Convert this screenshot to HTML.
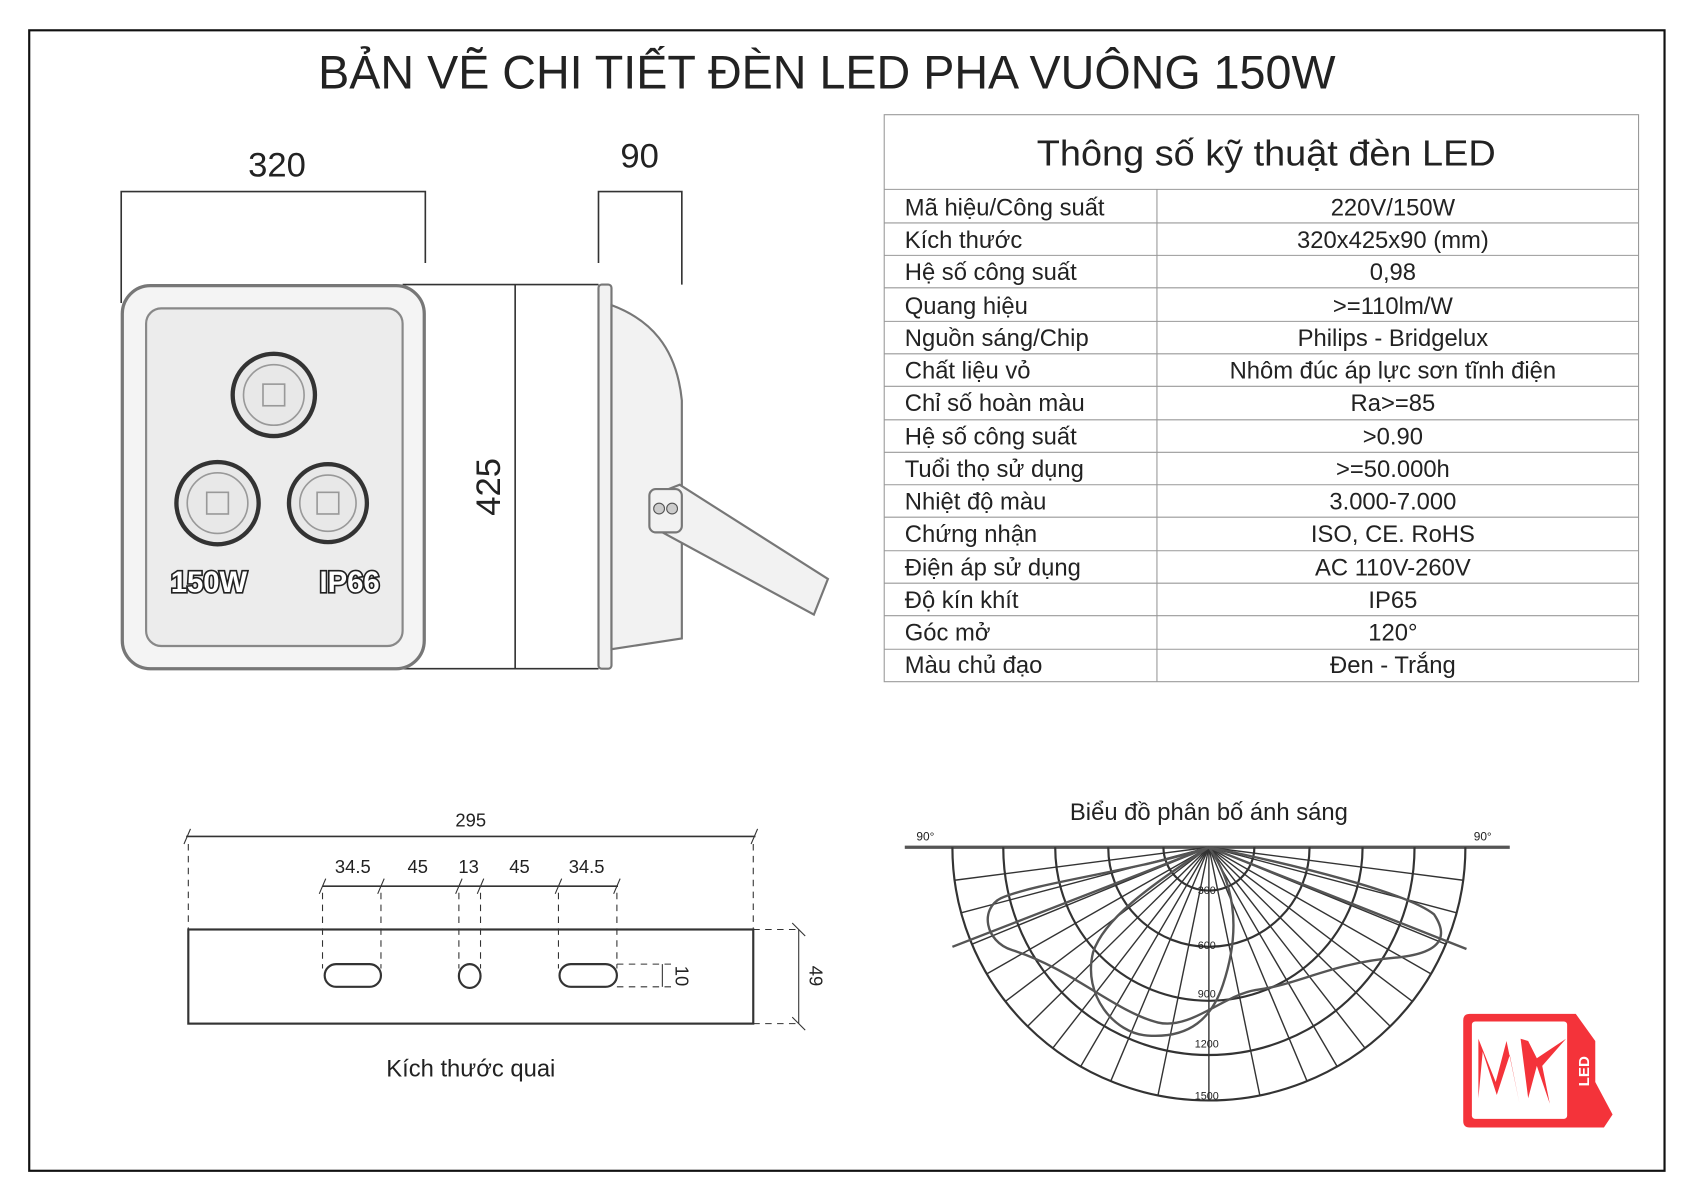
<!DOCTYPE html>
<html><head><meta charset="utf-8"><style>
html,body{margin:0;padding:0;background:#fff;}
svg{display:block;}
text{font-family:"Liberation Sans","DejaVu Sans",sans-serif;fill:#222;}
</style></head><body>
<svg width="1697" height="1200" viewBox="0 0 1568 1109" preserveAspectRatio="none" xmlns="http://www.w3.org/2000/svg">
<rect x="27" y="28" width="1511" height="1054" fill="none" stroke="#111" stroke-width="2"/>
<text x="764" y="82" font-size="44" text-anchor="middle" textLength="940" lengthAdjust="spacingAndGlyphs">BẢN VẼ CHI TIẾT ĐÈN LED PHA VUÔNG 150W</text>

<!-- table -->
<g stroke="#999" stroke-width="1" fill="none">
<rect x="817" y="106" width="697" height="524"/>
<line x1="1069" y1="175" x2="1069" y2="630"/>
</g>
<g stroke="#999" stroke-width="1">
<line x1="817" y1="175" x2="1514" y2="175"/>
<line x1="817" y1="206" x2="1514" y2="206"/>
<line x1="817" y1="236" x2="1514" y2="236"/>
<line x1="817" y1="266" x2="1514" y2="266"/>
<line x1="817" y1="297" x2="1514" y2="297"/>
<line x1="817" y1="327" x2="1514" y2="327"/>
<line x1="817" y1="357" x2="1514" y2="357"/>
<line x1="817" y1="388" x2="1514" y2="388"/>
<line x1="817" y1="418" x2="1514" y2="418"/>
<line x1="817" y1="448" x2="1514" y2="448"/>
<line x1="817" y1="478" x2="1514" y2="478"/>
<line x1="817" y1="509" x2="1514" y2="509"/>
<line x1="817" y1="539" x2="1514" y2="539"/>
<line x1="817" y1="569" x2="1514" y2="569"/>
<line x1="817" y1="600" x2="1514" y2="600"/>
</g>
<text x="1170" y="153" font-size="33" text-anchor="middle" textLength="424" lengthAdjust="spacingAndGlyphs">Thông số kỹ thuật đèn LED</text>
<g font-size="22">
<text x="836" y="199">Mã hiệu/Công suất</text><text x="1287" y="199" text-anchor="middle">220V/150W</text>
<text x="836" y="229">Kích thước</text><text x="1287" y="229" text-anchor="middle">320x425x90 (mm)</text>
<text x="836" y="259">Hệ số công suất</text><text x="1287" y="259" text-anchor="middle">0,98</text>
<text x="836" y="290">Quang hiệu</text><text x="1287" y="290" text-anchor="middle">&gt;=110lm/W</text>
<text x="836" y="320">Nguồn sáng/Chip</text><text x="1287" y="320" text-anchor="middle">Philips - Bridgelux</text>
<text x="836" y="350">Chất liệu vỏ</text><text x="1287" y="350" text-anchor="middle">Nhôm đúc áp lực sơn tĩnh điện</text>
<text x="836" y="380">Chỉ số hoàn màu</text><text x="1287" y="380" text-anchor="middle">Ra&gt;=85</text>
<text x="836" y="411">Hệ số công suất</text><text x="1287" y="411" text-anchor="middle">&gt;0.90</text>
<text x="836" y="441">Tuổi thọ sử dụng</text><text x="1287" y="441" text-anchor="middle">&gt;=50.000h</text>
<text x="836" y="471">Nhiệt độ màu</text><text x="1287" y="471" text-anchor="middle">3.000-7.000</text>
<text x="836" y="501">Chứng nhận</text><text x="1287" y="501" text-anchor="middle">ISO, CE. RoHS</text>
<text x="836" y="532">Điện áp sử dụng</text><text x="1287" y="532" text-anchor="middle">AC 110V-260V</text>
<text x="836" y="562">Độ kín khít</text><text x="1287" y="562" text-anchor="middle">IP65</text>
<text x="836" y="592">Góc mở</text><text x="1287" y="592" text-anchor="middle">120°</text>
<text x="836" y="622">Màu chủ đạo</text><text x="1287" y="622" text-anchor="middle">Đen - Trắng</text>
</g>

<!-- lamp front -->
<text x="256" y="163" font-size="32" text-anchor="middle">320</text>
<text x="591" y="155" font-size="32" text-anchor="middle">90</text>
<g stroke="#333" stroke-width="1.5" fill="none">
<polyline points="112,280 112,177 393,177 393,243"/>
<polyline points="553,243 553,177 630,177 630,263"/>
<line x1="372" y1="263" x2="553" y2="263"/>
<line x1="372" y1="618" x2="553" y2="618"/>
<line x1="476" y1="263" x2="476" y2="618"/>
</g>
<rect x="113" y="264" width="279" height="354" rx="26" fill="#f4f4f4" stroke="#777" stroke-width="3"/>
<rect x="135" y="285" width="237" height="312" rx="14" fill="#ececec" stroke="#888" stroke-width="2"/>
<g fill="#e8e8e8" stroke="#333" stroke-width="4">
<circle cx="253" cy="365" r="38"/><circle cx="201" cy="465" r="38"/><circle cx="303" cy="465" r="36"/>
</g>
<g fill="none" stroke="#999" stroke-width="1.5">
<circle cx="253" cy="365" r="28"/><circle cx="201" cy="465" r="28"/><circle cx="303" cy="465" r="26"/>
<rect x="243" y="355" width="20" height="20"/><rect x="191" y="455" width="20" height="20"/><rect x="293" y="455" width="20" height="20"/>
</g>
<g font-size="27" font-weight="bold" stroke="#222" stroke-width="3" paint-order="stroke">
<text x="193" y="547" text-anchor="middle" style="fill:#fff">150W</text>
<text x="323" y="547" text-anchor="middle" style="fill:#fff">IP66</text>
</g>
<text transform="translate(462,450) rotate(-90)" font-size="32" text-anchor="middle">425</text>

<!-- side profile -->
<g fill="#f2f2f2" stroke="#777" stroke-width="2">
<rect x="553" y="263" width="12" height="355" rx="3"/>
<path d="M565,282 C600,295 625,320 630,370 L630,590 L565,600 Z"/>
<polygon points="610,455 628,448 765,535 752,568 612,492"/>
<rect x="600" y="452" width="30" height="40" rx="6"/>
</g>
<circle cx="609" cy="470" r="5" fill="#ccc" stroke="#555"/><circle cx="621" cy="470" r="5" fill="#ccc" stroke="#555"/>

<!-- bracket -->
<text x="435" y="764" font-size="17" text-anchor="middle">295</text>
<g stroke="#333" stroke-width="1" fill="none">
<line x1="172" y1="773" x2="698" y2="773" stroke-width="1.5"/>
<line x1="170" y1="780" x2="176" y2="766"/><line x1="694" y1="780" x2="700" y2="766"/>
<line x1="174" y1="780" x2="174" y2="859" stroke-dasharray="6,5"/>
<line x1="696" y1="780" x2="696" y2="859" stroke-dasharray="6,5"/>
<line x1="298" y1="819" x2="571" y2="819" stroke-width="1.5"/>
<g stroke-dasharray="6,5">
<line x1="298" y1="825" x2="298" y2="895"/><line x1="352" y1="825" x2="352" y2="895"/>
<line x1="424" y1="825" x2="424" y2="895"/><line x1="444" y1="825" x2="444" y2="895"/>
<line x1="516" y1="825" x2="516" y2="895"/><line x1="570" y1="825" x2="570" y2="895"/>
<line x1="696" y1="859" x2="738" y2="859"/><line x1="696" y1="946" x2="738" y2="946"/>
<line x1="570" y1="891" x2="620" y2="891"/><line x1="570" y1="912" x2="620" y2="912"/>
</g>
<line x1="295" y1="826" x2="301" y2="812"/><line x1="349" y1="826" x2="355" y2="812"/>
<line x1="421" y1="826" x2="427" y2="812"/><line x1="441" y1="826" x2="447" y2="812"/>
<line x1="513" y1="826" x2="519" y2="812"/><line x1="567" y1="826" x2="573" y2="812"/>
<line x1="738" y1="859" x2="738" y2="946"/>
<line x1="732" y1="853" x2="744" y2="865"/><line x1="732" y1="940" x2="744" y2="952"/>
<line x1="612" y1="891" x2="612" y2="912"/>
<rect x="174" y="859" width="522" height="87" stroke-width="2"/>
<rect x="300" y="891" width="52" height="21" rx="10.5" stroke-width="2"/>
<rect x="517" y="891" width="53" height="21" rx="10.5" stroke-width="2"/>
<ellipse cx="434" cy="902" rx="10" ry="11" stroke-width="2"/>
</g>
<g font-size="17" text-anchor="middle">
<text x="326" y="807">34.5</text><text x="386" y="807">45</text><text x="433" y="807">13</text><text x="480" y="807">45</text><text x="542" y="807">34.5</text>
</g>
<text transform="translate(624,902) rotate(90)" font-size="17" text-anchor="middle">10</text>
<text transform="translate(748,902) rotate(90)" font-size="17" text-anchor="middle">49</text>
<text x="435" y="995" font-size="22" text-anchor="middle">Kích thước quai</text>

<!-- polar -->
<text x="1117" y="758" font-size="22" text-anchor="middle">Biểu đồ phân bố ánh sáng</text>
<text x="855" y="777" font-size="11" text-anchor="middle">90°</text>
<text x="1370" y="777" font-size="11" text-anchor="middle">90°</text>
<line x1="836" y1="783" x2="1395" y2="783" stroke="#555" stroke-width="3"/>
<g fill="none" stroke="#333" stroke-width="2">
<path d="M1075,783 A42,40 0 0 0 1159,783"/>
<path d="M1024,783 A93,92 0 0 0 1210,783"/>
<path d="M975,783 A142,142 0 0 0 1259,783"/>
<path d="M927,783 A190,192 0 0 0 1307,783"/>
<path d="M880,783 A237,234 0 0 0 1354,783"/>
</g>
<g stroke="#333" stroke-width="1.3">
<line x1="1117" y1="783" x2="882.0" y2="813.5"/>
<line x1="1117" y1="783" x2="898.1" y2="872.6"/>
<line x1="1117" y1="783" x2="928.9" y2="925.5"/>
<line x1="1117" y1="783" x2="972.8" y2="968.6"/>
<line x1="1117" y1="783" x2="1026.3" y2="999.2"/>
<line x1="1117" y1="783" x2="1070" y2="1012"/>
<line x1="1117" y1="783" x2="1117" y2="1017"/>
<line x1="1117" y1="783" x2="1164" y2="1012"/>
<line x1="1117" y1="783" x2="1207.7" y2="999.2"/>
<line x1="1117" y1="783" x2="1261.2" y2="968.6"/>
<line x1="1117" y1="783" x2="1305.1" y2="925.5"/>
<line x1="1117" y1="783" x2="1335.9" y2="872.6"/>
<line x1="1117" y1="783" x2="1352.0" y2="813.5"/>
<line x1="1117" y1="783" x2="888.1" y2="843.6"/>
<line x1="1117" y1="783" x2="911.8" y2="900.0"/>
<line x1="1117" y1="783" x2="949.4" y2="948.5"/>
<line x1="1117" y1="783" x2="998.5" y2="985.6"/>
<line x1="1117" y1="783" x2="1235.5" y2="985.6"/>
<line x1="1117" y1="783" x2="1284.6" y2="948.5"/>
<line x1="1117" y1="783" x2="1322.2" y2="900.0"/>
<line x1="1117" y1="783" x2="1345.9" y2="843.6"/>
</g>
<g fill="none" stroke="#555" stroke-width="2.2">
<line x1="1117" y1="783" x2="880" y2="875"/>
<line x1="1117" y1="783" x2="1355" y2="877"/>
<path d="M1117,783 C1050,805 960,815 925,830 C905,840 910,870 935,878 C990,895 1030,935 1070,945 C1100,952 1130,920 1160,915 C1200,910 1230,890 1290,885 C1340,880 1335,860 1325,845 C1300,825 1200,800 1117,783"/>
<path d="M1117,783 C1060,820 1020,850 1010,880 C1000,920 1030,955 1060,957 C1100,960 1120,940 1130,910 C1140,880 1150,830 1117,783"/>
</g>
<g font-size="10" text-anchor="middle" fill="#222">
<text x="1115" y="826">300</text><text x="1115" y="877">600</text><text x="1115" y="922">900</text><text x="1115" y="968">1200</text><text x="1115" y="1016">1500</text>
</g>

<!-- logo -->
<path d="M1352,943 Q1352,937 1358,937 L1456,937 L1474,962 L1474,1000 L1490,1030 L1482,1042 L1358,1042 Q1352,1042 1352,1036 Z" fill="#f4333a"/>
<rect x="1360" y="944" width="88" height="90" rx="3" fill="#fff"/>
<path d="M1366,960 L1382,1000 L1392,962 L1404,1020 L1395,975 L1383,1012 L1370,972 L1366,1015 Z" fill="#f4333a"/>
<path d="M1405,960 L1412,1015 L1420,985 L1432,1020 L1425,985 L1447,960 L1420,978 L1412,962 Z" fill="#f4333a"/>
<text transform="translate(1468,990) rotate(-90)" font-size="14" font-weight="bold" text-anchor="middle" style="fill:#fff">LED</text>
</svg>
</body></html>
